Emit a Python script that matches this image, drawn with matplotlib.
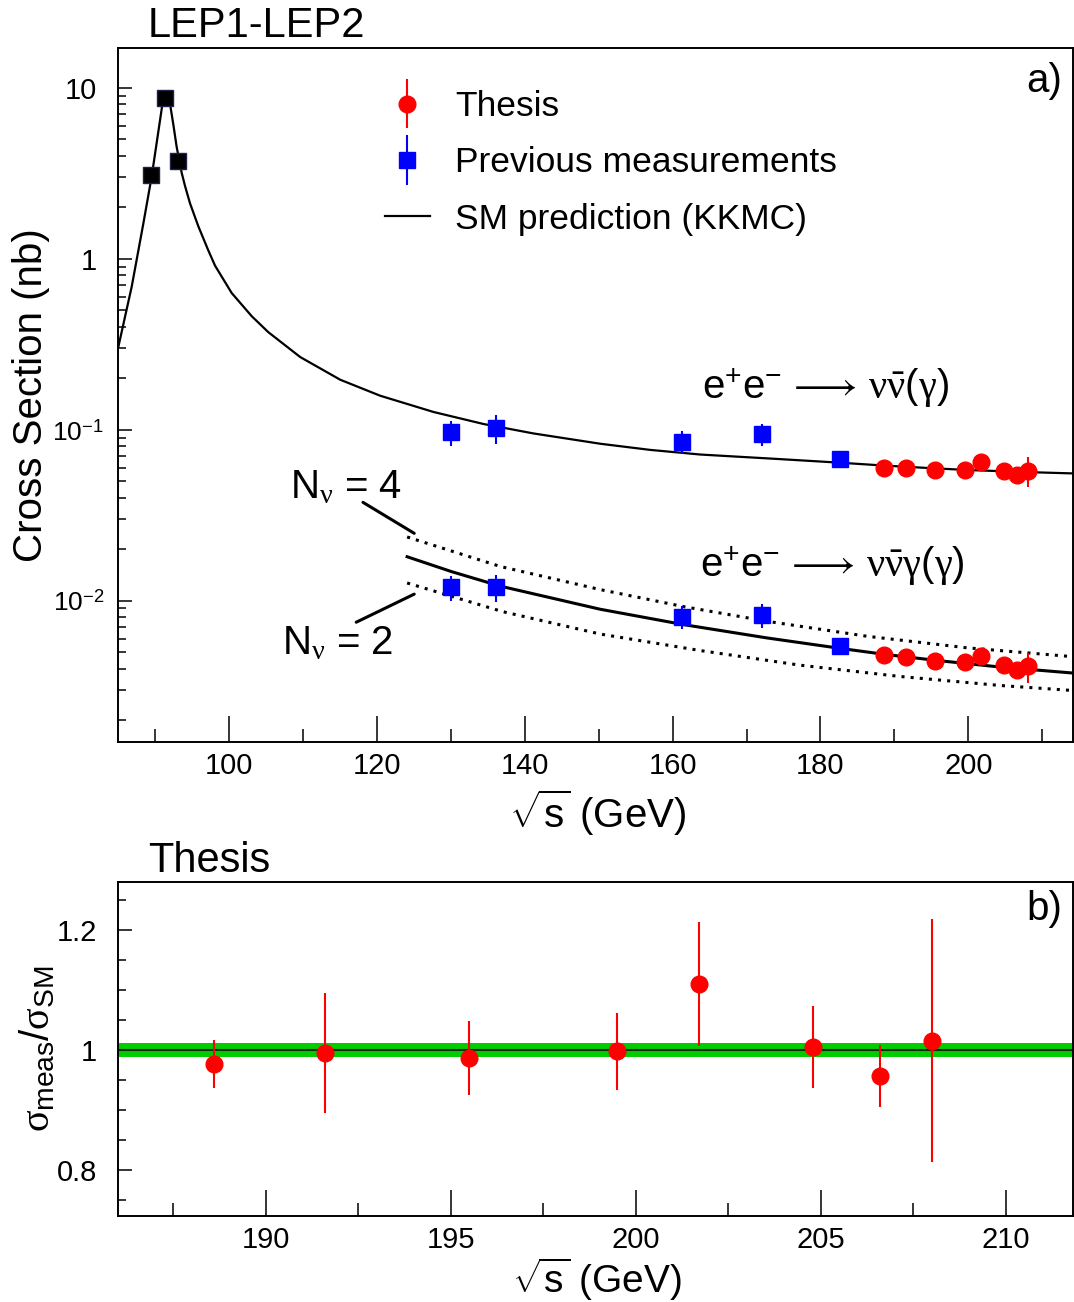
import matplotlib
matplotlib.use('Agg')
import matplotlib.pyplot as plt
from matplotlib.ticker import FixedLocator, FixedFormatter, MultipleLocator, LogLocator, NullFormatter
from matplotlib.container import ErrorbarContainer
from matplotlib.legend_handler import HandlerErrorbar
from matplotlib.transforms import ScaledTranslation

plt.rcParams['font.family'] = ['Liberation Sans', 'DejaVu Sans']
plt.rcParams['mathtext.fontset'] = 'custom'
plt.rcParams['mathtext.rm'] = 'Liberation Sans'
plt.rcParams['mathtext.it'] = 'Liberation Serif'
plt.rcParams['mathtext.bf'] = 'Liberation Sans:bold'
plt.rcParams['mathtext.sf'] = 'Liberation Sans'

# ---------------- data ----------------
lep1_e = [89.5, 91.3, 93.1]
lep1_xs = [3.08, 8.74, 3.73]
lep1_err = [0.05, 0.10, 0.05]

prev_e = [130.1, 136.1, 161.3, 172.1, 182.7]
prev_nn_xs = [0.0966, 0.102, 0.0851, 0.0940, 0.0675]
prev_nn_err = [0.016, 0.020, 0.013, 0.014, 0.005]
prev_nng_xs = [0.01197, 0.01200, 0.00805, 0.00824, 0.00546]
prev_nng_err = [0.0020, 0.0022, 0.0012, 0.0013, 0.0005]

thesis_e = [188.6, 191.6, 195.5, 199.5, 201.7, 204.8, 206.6, 208.0]
thesis_nn_xs = [0.0594, 0.0594, 0.0581, 0.0581, 0.0644, 0.0575, 0.0543, 0.0575]
thesis_nn_err = [0.0024, 0.0060, 0.0035, 0.0037, 0.0060, 0.0039, 0.0029, 0.0115]
thesis_nng_xs = [0.00482, 0.00471, 0.00446, 0.00435, 0.00475, 0.00418, 0.00393, 0.00412]
thesis_nng_err = [0.00019, 0.00047, 0.00027, 0.00028, 0.00044, 0.00028, 0.00021, 0.00082]

ratio = [0.977, 0.995, 0.987, 0.998, 1.110, 1.005, 0.957, 1.016]
ratio_err = [0.040, 0.100, 0.061, 0.064, 0.103, 0.068, 0.051, 0.202]
sm_band = 0.0115

# SM prediction (KKMC), e+e- -> nu nubar (gamma)
sm_nn_e = [85.05, 85.95, 86.85, 88.43, 89.55, 90.46, 91.04, 91.35, 91.65, 92.04, 92.5,
           92.93, 93.6, 94.07, 94.74, 95.86, 97.21, 98.12, 100.37, 103.07, 105.33,
           109.65, 115.06, 120.47, 127.67, 134.43, 141.19, 150.21, 156.97, 163.73,
           174.54, 182.7, 188.6, 195.5, 200.0, 208.0, 214.2]
sm_nn_xs = [0.3055, 0.458, 0.6855, 1.61, 3.02, 5.56, 8.22, 9.12, 9.02, 8.04, 6.03,
            4.52, 3.20, 2.66, 2.11, 1.55, 1.12, 0.912, 0.631, 0.462, 0.372,
            0.266, 0.196, 0.158, 0.127, 0.108, 0.0951, 0.0828, 0.0762, 0.0716,
            0.0673, 0.0641, 0.0617, 0.0594, 0.0581, 0.0565, 0.0555]

# SM prediction, e+e- -> nu nubar gamma (gamma)
sm_nng_e = [124.1, 130.1, 136.7, 150.2, 161.5, 172.8, 182.8, 188.7, 195.7, 204.3, 214.2]
sm_nng_xs = [0.01807, 0.01479, 0.01216, 0.00891, 0.00724, 0.00605, 0.00525, 0.00485,
             0.00447, 0.00409, 0.00377]

# N_nu = 4 and N_nu = 2 predictions
nu4_e = [124.1, 136.7, 150.2, 161.5, 172.8, 186.3, 199.8, 214.2]
nu4_xs = [0.02358, 0.01585, 0.01161, 0.00923, 0.00757, 0.00619, 0.00530, 0.00470]
nu2_e = [124.1, 137.0, 150.2, 163.7, 177.3, 190.8, 204.3, 214.2]
nu2_xs = [0.01269, 0.00863, 0.00638, 0.00511, 0.00419, 0.00360, 0.00319, 0.00298]

top_yticks = [0.01, 0.1, 1, 10]
top_yticklabels = [r'$10^{-2}$', r'$10^{-1}$', '1', '10']
bot_yticks = [0.8, 1.0, 1.2]
bot_yticklabels = ['0.8', '1', '1.2']

# ---------------- figure ----------------
W, H = 1074, 1302
fig = plt.figure(figsize=(W / 100, H / 100), dpi=100)

def ax_rect(l, t, r, b):
    return [l / W, 1 - b / H, (r - l) / W, (b - t) / H]

ax1 = fig.add_axes(ax_rect(118, 48, 1073, 742))
ax2 = fig.add_axes(ax_rect(118, 882, 1073, 1216))

RED = '#ff0000'
BLUE = '#0000ff'
GREEN = '#00cc00'
MS = 12

# SM curves
ax1.plot(sm_nn_e, sm_nn_xs, color='black', lw=1.6, zorder=2)
ax1.plot(sm_nng_e, sm_nng_xs, color='black', lw=2.2, zorder=2)
ax1.plot(nu4_e, nu4_xs, color='black', lw=2.2, ls=(0, (1, 2)), dash_capstyle='butt', zorder=2)
ax1.plot(nu2_e, nu2_xs, color='black', lw=2.2, ls=(0, (1, 2)), dash_capstyle='butt', zorder=2)
sm_handle, = ax1.plot([], [], color='black', lw=1.6)

# data points
ax1.errorbar(lep1_e, lep1_xs, yerr=lep1_err, fmt='s', color='black', ms=MS,
             mec='#202050', elinewidth=1.5, capsize=0, zorder=4)
h_prev = ax1.errorbar(prev_e, prev_nn_xs, yerr=prev_nn_err, fmt='s', color=BLUE, ms=MS,
                      elinewidth=1.5, capsize=0, zorder=4)
ax1.errorbar(prev_e, prev_nng_xs, yerr=prev_nng_err, fmt='s', color=BLUE, ms=MS,
             elinewidth=1.5, capsize=0, zorder=4)
h_th = ax1.errorbar(thesis_e, thesis_nn_xs, yerr=thesis_nn_err, fmt='o', color=RED, ms=MS,
                    elinewidth=1.5, capsize=0, zorder=5)
ax1.errorbar(thesis_e, thesis_nng_xs, yerr=thesis_nng_err, fmt='o', color=RED, ms=MS,
             elinewidth=1.5, capsize=0, zorder=5)

ax1.set_xlim(85, 214.15)
ax1.set_yscale('log')
ax1.set_ylim(0.00149, 17.1)

ax1.xaxis.set_major_locator(MultipleLocator(20))
ax1.xaxis.set_minor_locator(MultipleLocator(10))
ax1.yaxis.set_major_locator(FixedLocator(top_yticks))
ax1.yaxis.set_major_formatter(FixedFormatter(top_yticklabels))
ax1.yaxis.set_minor_locator(LogLocator(base=10, subs=range(2, 10)))
ax1.yaxis.set_minor_formatter(NullFormatter())

FS_TICK = 21
FS_LAB = 29
for ax in (ax1, ax2):
    ax.tick_params(axis='both', which='both', direction='in', top=False, right=False,
                   width=1.1, labelsize=FS_TICK)
    ax.tick_params(axis='x', which='major', length=18.7, pad=7)
    ax.tick_params(axis='x', which='minor', length=9.4)
    ax.tick_params(axis='y', which='major', length=10, pad=15)
    ax.tick_params(axis='y', which='minor', length=5.5)
    for s in ax.spines.values():
        s.set_linewidth(1.4)

ax1.set_xlabel(r'$\sqrt{\mathrm{s}}$ (GeV)', fontsize=FS_LAB)
ax1.xaxis.set_label_coords(0.502, -0.066)
ax1.set_ylabel('Cross Section (nb)', fontsize=FS_LAB)
ax1.yaxis.set_label_coords(-0.071, 0.5)

# legend
leg = ax1.legend([h_th, h_prev, sm_handle],
                 ['Thesis', 'Previous measurements', 'SM prediction (KKMC)'],
                 handler_map={ErrorbarContainer: HandlerErrorbar(yerr_size=0.7)},
                 loc='upper left', bbox_to_anchor=(385 / W, 1 - 90 / H),
                 bbox_transform=fig.transFigure, frameon=False, fontsize=25.5,
                 handlelength=1.27, handletextpad=0.72, labelspacing=0.66,
                 borderpad=0, borderaxespad=0, numpoints=1)

# annotations
ax1.text(1 - 11 / 955, 1 - 33 / 694, 'a)', transform=ax1.transAxes, ha='right',
         va='center', fontsize=FS_LAB)
ax1.text(163.96, 0.1507,
         r'$\mathrm{e}^{+}\mathrm{e}^{-}\,\longrightarrow\,\nu\bar{\nu}(\gamma)$',
         fontsize=FS_LAB, ha='left', va='baseline')
ax1.text(163.64, 0.01381,
         r'$\mathrm{e}^{+}\mathrm{e}^{-}\,\longrightarrow\,\nu\bar{\nu}\gamma(\gamma)$',
         fontsize=FS_LAB, ha='left', va='baseline')
ax1.text(108.3, 0.0399, r'N$_{\nu}$ = 4', fontsize=FS_LAB, ha='left', va='baseline')
ax1.text(107.18, 0.00488, r'N$_{\nu}$ = 2', fontsize=FS_LAB, ha='left', va='baseline')
ax1.annotate('', xy=(125.06, 0.02477), xytext=(118.13, 0.0376),
             arrowprops=dict(arrowstyle='-', lw=2.2, color='black', shrinkA=0, shrinkB=0))
ax1.annotate('', xy=(125.06, 0.01092), xytext=(117.22, 0.00748),
             arrowprops=dict(arrowstyle='-', lw=2.2, color='black', shrinkA=0, shrinkB=0))

fig.text(148 / W, 1 - 36.7 / H, 'LEP1-LEP2', fontsize=30, ha='left', va='baseline')

# ---------------- ratio panel ----------------
ax2.axhspan(1 - sm_band, 1 + sm_band, color=GREEN, lw=0, zorder=1)
ax2.axhline(1.0, color='#0a2a0a', lw=1.5, zorder=2)
ax2.errorbar(thesis_e, ratio, yerr=ratio_err, fmt='o', color=RED, ms=MS,
             elinewidth=1.5, capsize=0, zorder=5)
ax2.set_xlim(186, 211.82)
ax2.set_ylim(0.7237, 1.280)
ax2.xaxis.set_major_locator(MultipleLocator(5))
ax2.xaxis.set_minor_locator(MultipleLocator(2.5))
ax2.yaxis.set_major_locator(FixedLocator(bot_yticks))
ax2.yaxis.set_major_formatter(FixedFormatter(bot_yticklabels))
ax2.yaxis.set_minor_locator(MultipleLocator(0.05))

ax2.set_xlabel(r'$\sqrt{\mathrm{s}}$ (GeV)', fontsize=28)
ax2.xaxis.set_label_coords(0.502, -0.119)
ax2.set_ylabel(r'$\sigma_{\mathrm{meas}}/\sigma_{\mathrm{SM}}$', fontsize=FS_LAB)
ax2.yaxis.set_label_coords(-0.064, 0.5)
ax2.text(1 - 11 / 955, 1 - 27 / 334, 'b)', transform=ax2.transAxes, ha='right',
         va='center', fontsize=FS_LAB)
fig.text(148 / W, 1 - 872.3 / H, 'Thesis', fontsize=30, ha='left', va='baseline')

# power-of-ten labels: a bit smaller and shifted right, as in the reference
fig.canvas.draw()
shift = ScaledTranslation(7 / 100, 0, fig.dpi_scale_trans)
for tick in ax1.yaxis.get_major_ticks():
    lab = tick.label1
    if '^' in lab.get_text():
        lab.set_fontsize(19)
        lab.set_transform(lab.get_transform() + shift)

fig.savefig('out.png', dpi=100)
